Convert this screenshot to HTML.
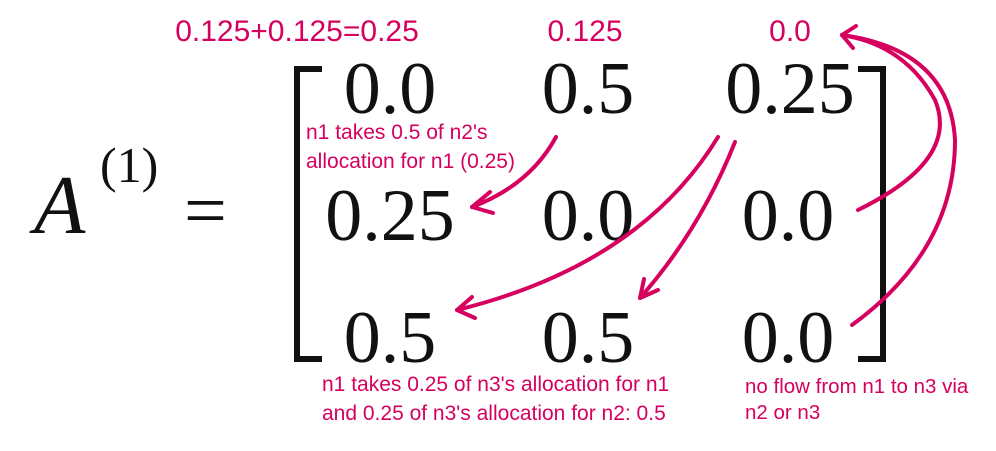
<!DOCTYPE html>
<html><head><meta charset="utf-8"><style>
html,body{margin:0;padding:0;background:#fff;}
svg{display:block}
.m{font-family:"Liberation Serif",serif;fill:#111;}
.a{font-family:"Liberation Sans",sans-serif;fill:#d6005f;}
.arr{fill:none;stroke:#d6005f;stroke-width:4;stroke-linecap:round;stroke-linejoin:round}
</style></head><body>
<svg width="996" height="451" viewBox="0 0 996 451">
<g>
<text class="m" x="34" y="233" font-size="84" font-style="italic">A</text>
<text class="m" x="100" y="182" font-size="50">(1)</text>
<text class="m" x="184" y="236" font-size="76">=</text>
</g>
<path d="M322 69 H297 V359 H322" fill="none" stroke="#111" stroke-width="6"/>
<path d="M858 69 H883 V359 H858" fill="none" stroke="#111" stroke-width="6"/>
<g class="m" font-size="74" text-anchor="middle">
<text x="390" y="113">0.0</text>
<text x="588" y="113">0.5</text>
<text x="790" y="113">0.25</text>
<text x="390" y="240">0.25</text>
<text x="588" y="240">0.0</text>
<text x="788" y="240">0.0</text>
<text x="390" y="362">0.5</text>
<text x="588" y="362">0.5</text>
<text x="788" y="362">0.0</text>
</g>
<g class="a" font-size="30" text-anchor="middle">
<text x="297" y="41">0.125+0.125=0.25</text>
<text x="585" y="41">0.125</text>
<text x="790" y="41">0.0</text>
</g>
<g class="a" font-size="21">
<text x="306" y="139">n1 takes 0.5 of n2's</text>
<text x="306" y="168">allocation for n1 (0.25)</text>
<text x="322" y="391">n1 takes 0.25 of n3's allocation for n1</text>
<text x="322" y="420">and 0.25 of n3's allocation for n2: 0.5</text>
</g>
<g class="a" font-size="20.5">
<text x="745" y="393">no flow from n1 to n3 via</text>
<text x="745" y="419">n2 or n3</text>
</g>
<g class="arr">
<path d="M556 137 Q530 185 472 207 M472 207 L490 192 M472 207 L493 213"/>
<path d="M718 137 Q640 265 457 310 M457 310 L472 297 M457 310 L475 318"/>
<path d="M735 142 Q700 230 640 298 M640 298 L644 279 M640 298 L658 290"/>
<path d="M858 210 Q960 160 935 100 Q905 45 842 35 M842 35 L856 26 M842 35 L853 48"/>
<path d="M852 325 Q955 250 955 140 Q950 50 842 35"/>
</g>
</svg>
</body></html>
